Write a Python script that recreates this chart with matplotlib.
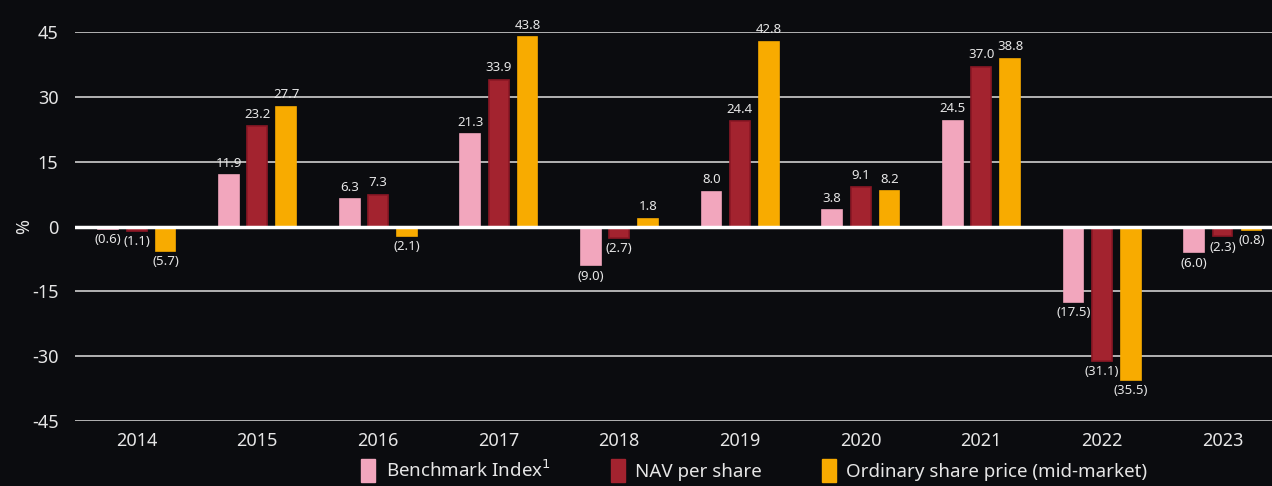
import numpy as np
import matplotlib
matplotlib.use("Agg")
import matplotlib.pyplot as plt
from matplotlib.patches import Patch

years = ["2014", "2015", "2016", "2017", "2018", "2019", "2020", "2021", "2022", "2023"]
benchmark = [-0.6, 11.9, 6.3, 21.3, -9.0, 8.0, 3.8, 24.5, -17.5, -6.0]
nav = [-1.1, 23.2, 7.3, 33.9, -2.7, 24.4, 9.1, 37.0, -31.1, -2.3]
share_price = [-5.7, 27.7, -2.1, 43.8, 1.8, 42.8, 8.2, 38.8, -35.5, -0.8]
series_names = ["Benchmark Index$^{1}$", "NAV per share", "Ordinary share price (mid-market)"]
yticks = [-45, -30, -15, 0, 15, 30, 45]

bg = "#0b0c0f"
txt = "#e6e6e6"
colors = ["#f2a6bd", "#a3232f", "#f8ab00"]
edges = ["#f2a6bd", "#8c1825", "#f8ab00"]

plt.rcParams["font.family"] = ["Noto Sans", "DejaVu Sans"]
plt.rcParams["axes.unicode_minus"] = False

fig = plt.figure(figsize=(12.72, 4.86), dpi=100, facecolor=bg)
ax = fig.add_axes([0.059, 0.1337, 0.941, 0.8003])
ax.set_facecolor(bg)

x = np.arange(len(years))
offsets = [-0.235, 0.0, 0.24]
width = 0.165
for vals, off, c, ec in zip([benchmark, nav, share_price], offsets, colors, edges):
    bars = ax.bar(x + off, vals, width, color=c, edgecolor=ec, linewidth=1.2, zorder=3)
    for b, v in zip(bars, vals):
        xc = b.get_x() + b.get_width() / 2
        if v >= 0:
            ax.annotate(f"{v:.1f}", (xc, v), xytext=(0, 4), textcoords="offset points",
                        ha="center", va="bottom", color=txt, fontsize=9.5, annotation_clip=False)
        else:
            ax.annotate(f"({abs(v):.1f})", (xc, v), xytext=(0, -3), textcoords="offset points",
                        ha="center", va="top", color=txt, fontsize=9.5, annotation_clip=False)

for t in yticks:
    if t != 0:
        ax.axhline(t, color="#cfcfcf", lw=1.2, zorder=1)
ax.axhline(0, color="white", lw=2.5, zorder=4)

ax.set_xlim(-0.51, 9.41)
ax.set_ylim(-45, 45)
ax.set_yticks(yticks)
ax.set_xticks(x)
ax.set_xticklabels(years)
ax.tick_params(axis="both", length=0, colors=txt, labelsize=13)
ax.tick_params(axis="y", pad=12)
ax.tick_params(axis="x", pad=8)
for s in ax.spines.values():
    s.set_visible(False)
ax.set_ylabel("%", color=txt, fontsize=13, labelpad=-1)

handles = [Patch(facecolor=c, edgecolor=c) for c in colors]
leg = fig.legend(handles, series_names, loc="center", bbox_to_anchor=(0.593, 0.032), ncol=3,
                 frameon=False, fontsize=13.5, handlelength=0.75, handleheight=1.5,
                 handletextpad=0.55, columnspacing=3.2, labelcolor=txt, borderpad=0.2)

fig.savefig("out.png", facecolor=bg)
